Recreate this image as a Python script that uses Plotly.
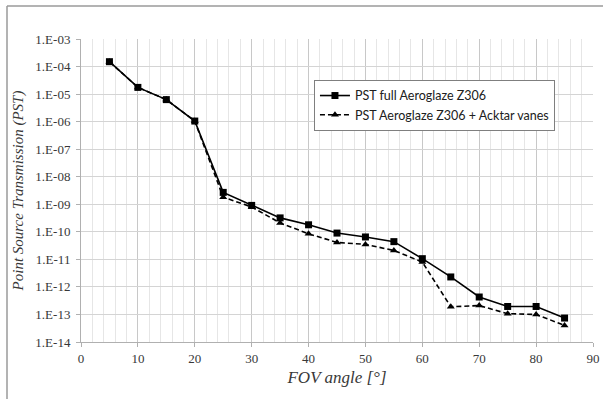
import plotly.graph_objects as go

# ---- data ----
fov_angle = [5, 10, 15, 20, 25, 30, 35, 40, 45, 50, 55, 60, 65, 70, 75, 80, 85]
pst_full = [1.5e-4, 1.75e-5, 6.3e-6, 1.05e-6, 2.7e-9, 9.1e-10, 3.2e-10, 1.8e-10,
            9.0e-11, 6.5e-11, 4.4e-11, 1.06e-11, 2.3e-12, 4.3e-13, 1.95e-13, 1.95e-13, 7.4e-14]
pst_acktar = [1.5e-4, 1.75e-5, 6.3e-6, 1.05e-6, 1.8e-9, 8.0e-10, 2.1e-10, 8.5e-11,
              4.1e-11, 3.5e-11, 2.1e-11, 8.0e-12, 1.9e-13, 2.1e-13, 1.07e-13, 1.0e-13, 4.0e-14]
name_full = "PST full Aeroglaze Z306"
name_acktar = "PST Aeroglaze Z306 + Acktar vanes"
y_exponents = list(range(-14, -2))
y_tickvals = [10.0 ** e for e in y_exponents]
y_ticktext = ["1.E-%02d" % (-e) for e in y_exponents]
x_title = "FOV angle [°]"
y_title = "Point Source Transmission (PST)"

serif = "Liberation Serif, Times New Roman, serif"

fig = go.Figure()
fig.add_trace(go.Scatter(
    x=fov_angle, y=pst_full, name=name_full, mode="lines+markers",
    line=dict(color="black", width=1.6),
    marker=dict(symbol="square", size=7, color="black"),
))
fig.add_trace(go.Scatter(
    x=fov_angle, y=pst_acktar, name=name_acktar, mode="lines+markers",
    line=dict(color="black", width=1.6, dash="5px,3px"),
    marker=dict(symbol="triangle-up", size=7, color="black"),
))

fig.update_layout(
    width=603, height=399,
    margin=dict(l=81, r=10, t=39, b=57),
    paper_bgcolor="white", plot_bgcolor="white",
    showlegend=True,
    legend=dict(
        x=0.455, y=0.865, xanchor="left", yanchor="top",
        bgcolor="white", bordercolor="#7f7f7f", borderwidth=1,
        font=dict(family="Lato", size=12.5, color="#202020"),
        itemwidth=30, tracegroupgap=0,
    ),
    xaxis=dict(
        range=[0, 90], dtick=10, tick0=0,
        showgrid=True, gridcolor="#c8c8c8", gridwidth=1,
        minor=dict(dtick=2, showgrid=True, gridcolor="#e6e6e6", gridwidth=1),
        ticks="outside", ticklen=4, tickcolor="#b0b0b0",
        showline=True, linecolor="#b0b0b0", linewidth=1,
        zeroline=False, automargin=False,
        tickfont=dict(family=serif, size=13, color="#383838"),
        title=dict(text=x_title, font=dict(family=serif, size=17, color="#383838", style="italic"), standoff=6),
    ),
    yaxis=dict(
        type="log", range=[-14, -3],
        tickvals=y_tickvals, ticktext=y_ticktext,
        showgrid=True, gridcolor="#d4d4d4", gridwidth=1,
        ticks="outside", ticklen=4, tickcolor="#b0b0b0",
        showline=True, linecolor="#b0b0b0", linewidth=1,
        zeroline=False, automargin=False, ticklabelstandoff=3,
        tickfont=dict(family=serif, size=13, color="#383838"),
        title=dict(text=y_title, font=dict(family=serif, size=15, color="#383838", style="italic"), standoff=8),
    ),
)

# outer chart frame (top and left edges visible)
fig.add_shape(type="line", xref="paper", yref="paper",
              x0=-74 / 512, x1=1.05, y0=1 + 33 / 302.5, y1=1 + 33 / 302.5,
              line=dict(color="#9a9a9a", width=1.5))
fig.add_shape(type="line", xref="paper", yref="paper",
              x0=-74 / 512, x1=-74 / 512, y0=-0.2, y1=1 + 33 / 302.5,
              line=dict(color="#9a9a9a", width=1.5))

fig.write_html("out.html", config={"displayModeBar": False},
               post_script="document.body.style.margin='0';")
